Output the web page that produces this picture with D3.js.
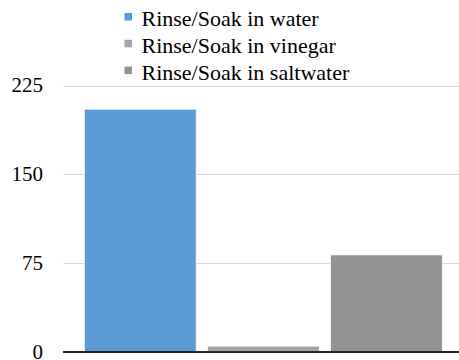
<!DOCTYPE html>
<html>
<head>
<meta charset="utf-8">
<script src="https://cdn.jsdelivr.net/npm/d3@7"></script>
<style>
  svg text { font-family: "Liberation Serif", "Times New Roman", serif !important; }
</style>
</head>
<body style="margin:0">
<svg id="chart" width="459" height="360" style="display:block"></svg>
<script>
// Series (one bar each) and their values
const seriesNames = ["Rinse/Soak in water", "Rinse/Soak in vinegar", "Rinse/Soak in saltwater"];
const seriesValues = [205, 5, 82];
const seriesColors = ["#5B9BD5", "#A5A5A5", "#939393"];
const yTicks = [0, 75, 150, 225];

const plot = { left: 63, right: 459, top: 85.5, bottom: 352 };
const fontFamily = '"Liberation Serif", "Times New Roman", serif';

const svg = d3.select("#chart");

const y = d3.scaleLinear().domain([0, 225]).range([plot.bottom, plot.top]);
const x = d3.scaleBand()
  .domain(seriesNames)
  .range([84.3, 442.3])
  .paddingInner(0.091)
  .paddingOuter(0);

// Horizontal gridlines
svg.append("g")
  .selectAll("line")
  .data(yTicks.filter(d => d > 0))
  .join("line")
  .attr("x1", plot.left)
  .attr("x2", plot.right)
  .attr("y1", d => Math.round(y(d)) + 0.5)
  .attr("y2", d => Math.round(y(d)) + 0.5)
  .attr("stroke", "#D9D9D9")
  .attr("stroke-width", 1);

// Y axis labels
const yAxis = d3.axisLeft(y).tickValues(yTicks).tickSize(0).tickPadding(0);
const gy = svg.append("g")
  .attr("transform", `translate(43,0)`)
  .call(yAxis)
  .attr("font-family", null)
  .attr("font-size", 21);
gy.select(".domain").remove();
gy.selectAll("text")
  .style("font-family", fontFamily, "important")
  .attr("fill", "#000")
  .attr("dy", "0.3em");

// Bars
svg.append("g")
  .selectAll("rect")
  .data(seriesNames.map((name, i) => ({ name, value: seriesValues[i], color: seriesColors[i] })))
  .join("rect")
  .attr("x", d => x(d.name))
  .attr("width", x.bandwidth())
  .attr("y", d => y(d.value))
  .attr("height", d => y(0) - y(d.value))
  .attr("fill", d => d.color)
  .attr("stroke", "#ffffff")
  .attr("stroke-width", 0.75);

// Baseline axis
svg.append("line")
  .attr("x1", plot.left)
  .attr("x2", plot.right)
  .attr("y1", y(0))
  .attr("y2", y(0))
  .attr("stroke", "#262626")
  .attr("stroke-width", 2);

// Legend
const legend = svg.append("g");
const legendRows = legend.selectAll("g")
  .data(seriesNames.map((name, i) => ({ name, color: seriesColors[i] })))
  .join("g")
  .attr("transform", (d, i) => `translate(124.5,${26 + i * 26.8})`);
legendRows.append("rect")
  .attr("x", 0)
  .attr("y", -13)
  .attr("width", 7.5)
  .attr("height", 7.5)
  .attr("fill", d => d.color);
legendRows.append("text")
  .attr("x", 17)
  .attr("y", 0)
  .style("font-family", fontFamily, "important")
  .attr("font-size", 22)
  .attr("fill", "#000")
  .text(d => d.name);
</script>
</body>
</html>
